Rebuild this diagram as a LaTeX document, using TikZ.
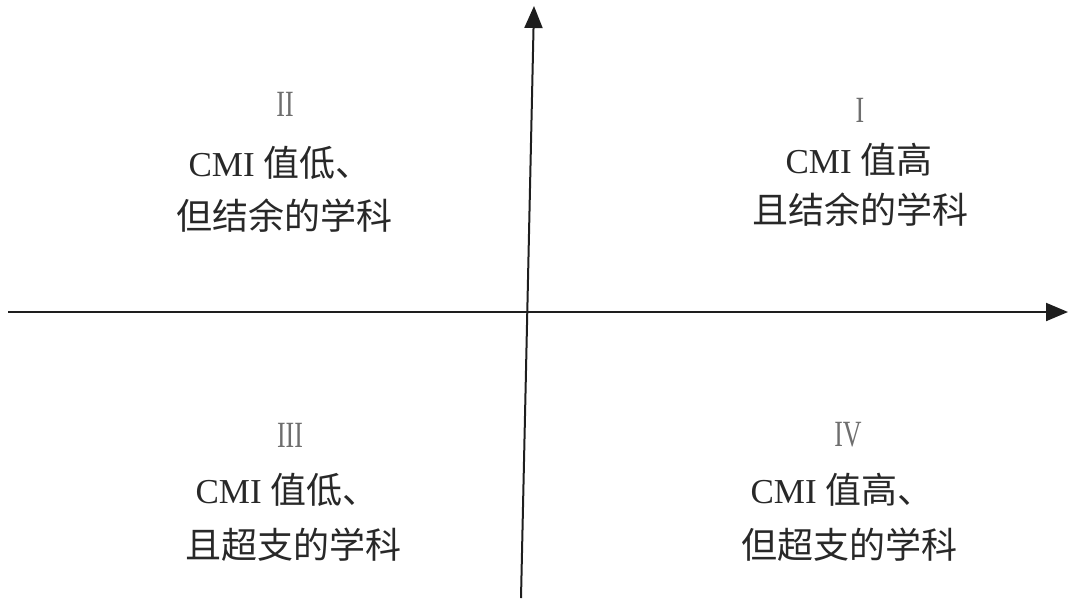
\documentclass[tikz,border=0pt]{standalone}
\usepackage{fontspec}
\setmainfont{Liberation Serif}
\newfontfamily\cjk{Noto Sans CJK SC}
\usetikzlibrary{arrows.meta}
\definecolor{axisgray}{RGB}{30,30,30}
\definecolor{txtgray}{RGB}{40,40,40}
\definecolor{numgray}{RGB}{110,110,110}
\tikzset{
  axisline/.style={draw=axisgray, line width=2pt, -{Triangle[length=22pt,width=18pt]}},
  numlabel/.style={text=numgray, font=\fontsize{37}{37}\selectfont, inner sep=0pt, anchor=center},
  linelabel/.style={text=txtgray, font=\fontsize{35}{35}\selectfont, inner sep=0pt, anchor=center},
  cjkfont/.style={}
}
\newcommand{\cm}[1]{{\fontsize{36}{36}\selectfont\cjk #1}}
\begin{document}
\begin{tikzpicture}[x=1pt,y=-1pt]
\useasboundingbox (0,0) rectangle (1068,598);
\coordinate (vbot) at (521,598);
\coordinate (vtop) at (534,6);
\coordinate (hleft) at (8,312);
\coordinate (hright) at (1068,312);
\draw[axisline] (vbot) -- (vtop);
\draw[axisline] (hleft) -- (hright);

% Quadrant I
\node[numlabel] (n1) at (860,110) {\scalebox{0.7}[1]{I}};
\node[linelabel] (q1a) at (859,160) {CMI \cm{值高}};
\node[linelabel] (q1b) at (860,210) {\cm{且结余的学科}};
% Quadrant II
\node[numlabel] (n2) at (285,104) {\scalebox{0.7}[1]{II}};
\node[linelabel] (q2a) at (280,163) {CMI \cm{值低、}};
\node[linelabel] (q2b) at (284,216) {\cm{但结余的学科}};
% Quadrant III
\node[numlabel] (n3) at (290,435) {\scalebox{0.7}[1]{III}};
\node[linelabel] (q3a) at (287,490) {CMI \cm{值低、}};
\node[linelabel] (q3b) at (293,545) {\cm{且超支的学科}};
% Quadrant IV
\node[numlabel] (n4) at (848,435) {\scalebox{0.7}[1]{IV}};
\node[linelabel] (q4a) at (842,490) {CMI \cm{值高、}};
\node[linelabel] (q4b) at (849,545) {\cm{但超支的学科}};
\end{tikzpicture}
\end{document}
